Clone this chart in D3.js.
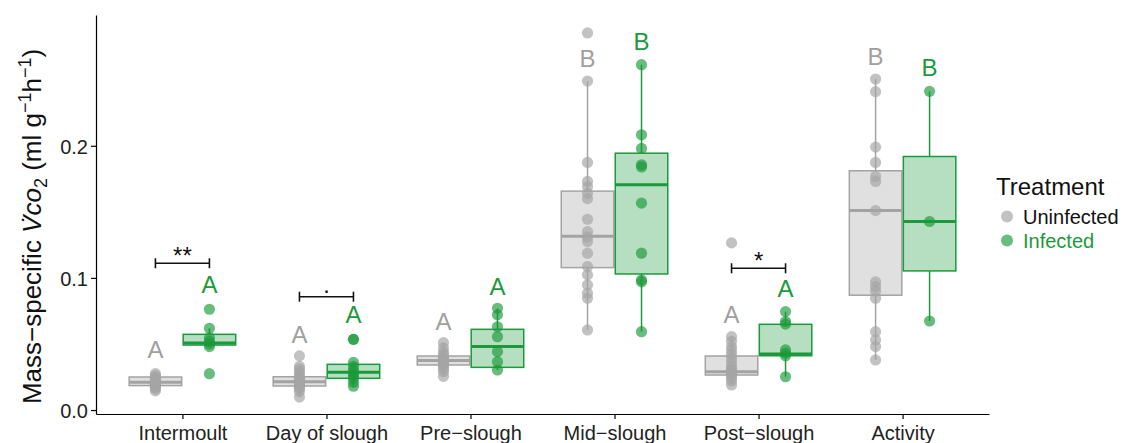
<!DOCTYPE html>
<html>
<head>
<meta charset="utf-8">
<script src="https://cdn.jsdelivr.net/npm/d3@7"></script>
<style>
  html, body { margin: 0; padding: 0; background: #fff; }
  svg { display: block; font-family: "Liberation Sans", Arial, sans-serif; }
</style>
</head>
<body>
<svg id="chart" width="1126" height="443"></svg>
<script>
// Moult stages on the x axis
const categories = ["Intermoult", "Day of slough", "Pre\u2212slough", "Mid\u2212slough", "Post\u2212slough", "Activity"];
const treatments = ["Uninfected", "Infected"];

// Individual mass-specific VCO2 measurements (ml g-1 h-1), one list per stage
const uninfectedPoints = [
  [0.0145, 0.016, 0.017, 0.018, 0.019, 0.0195, 0.020, 0.021, 0.021, 0.022, 0.023, 0.024, 0.025, 0.026, 0.0275],
  [0.041, 0.033, 0.031, 0.029, 0.027, 0.025, 0.024, 0.023, 0.022, 0.021, 0.020, 0.019, 0.018, 0.017, 0.016, 0.014, 0.0098],
  [0.051, 0.047, 0.044, 0.042, 0.040, 0.039, 0.038, 0.037, 0.036, 0.035, 0.034, 0.033, 0.031, 0.029, 0.0255],
  [0.2854, 0.249, 0.1874, 0.173, 0.169, 0.164, 0.160, 0.1444, 0.135, 0.131, 0.1275, 0.1187, 0.1086, 0.1023, 0.0947, 0.0884, 0.0846, 0.0606],
  [0.1265, 0.0555, 0.052, 0.048, 0.045, 0.042, 0.039, 0.036, 0.033, 0.031, 0.030, 0.029, 0.028, 0.027, 0.026, 0.024, 0.022, 0.019],
  [0.2505, 0.241, 0.199, 0.1874, 0.1768, 0.173, 0.151, 0.097, 0.0934, 0.090, 0.0846, 0.0593, 0.053, 0.048, 0.0379]
];
const infectedPoints = [
  [0.0763, 0.0619, 0.0545, 0.052, 0.050, 0.048, 0.0275],
  [0.0535, 0.0535, 0.036, 0.033, 0.030, 0.028, 0.026, 0.024, 0.021, 0.018],
  [0.077, 0.072, 0.063, 0.0555, 0.0442, 0.0366, 0.0303],
  [0.2614, 0.2083, 0.198, 0.1856, 0.184, 0.1566, 0.1187, 0.0985, 0.097, 0.0593],
  [0.0745, 0.067, 0.065, 0.0455, 0.043, 0.041, 0.0252],
  [0.2412, 0.1427, 0.0674]
];

// Box summaries per stage: [lower whisker, Q1, median, Q3, upper whisker]
const uninfectedBoxes = [
  [0.0145, 0.0185, 0.021, 0.025, 0.0275],
  [0.0098, 0.0182, 0.0215, 0.0252, 0.033],
  [0.0255, 0.0341, 0.0374, 0.0409, 0.051],
  [0.0606, 0.1078, 0.1315, 0.1657, 0.249],
  [0.019, 0.0265, 0.029, 0.0409, 0.0555],
  [0.0379, 0.0869, 0.151, 0.1811, 0.2505]
];
const infectedBoxes = [
  [0.048, 0.0492, 0.0508, 0.0573, 0.0619],
  [0.018, 0.024, 0.0286, 0.0346, 0.036],
  [0.0303, 0.0323, 0.048, 0.0611, 0.077],
  [0.0593, 0.103, 0.1705, 0.1944, 0.2614],
  [0.0252, 0.0411, 0.0424, 0.0649, 0.0745],
  [0.0674, 0.1053, 0.1427, 0.1919, 0.2412]
];

// Compact letter display across stages, with the height of each letter's baseline
const uninfectedLetters = ["A", "A", "A", "B", "A", "B"];
const uninfectedLetterY = [0.0394, 0.0505, 0.0606, 0.260, 0.0657, 0.2614];
const infectedLetters = ["A", "A", "A", "B", "A", "B"];
const infectedLetterY = [0.0884, 0.0657, 0.0871, 0.2727, 0.0859, 0.2525];

// Within-stage comparisons (uninfected vs infected)
const bracketStages = ["Intermoult", "Day of slough", "Post\u2212slough"];
const bracketY = [0.1111, 0.0858, 0.1073];
const bracketLabels = ["**", "\u00b7", "*"];

const yTicks = [0.0, 0.1, 0.2];

const colors = {
  Uninfected: { line: "#a3a3a3", fill: "rgba(169,169,169,0.36)", point: "rgba(165,165,165,0.68)", text: "#a0a0a0", legend: "#111" },
  Infected:   { line: "#1a9a3a", fill: "rgba(26,154,58,0.32)",  point: "rgba(26,154,58,0.66)",  text: "#1a9a3a", legend: "#1a9a3a" }
};

const svg = d3.select("#chart");
const panel = { left: 96, right: 989, top: 15, bottom: 414 };

const x = d3.scalePoint().domain(categories).range([panel.left, panel.right]).padding(0.6);
const dodge = d3.scaleBand().domain(treatments).range([-54, 54]).padding(0);
const y = d3.scaleLinear().domain([-0.003, 0.299]).range([panel.bottom, panel.top]);
const boxW = dodge.bandwidth();
const cx = (cat, t) => x(cat) + dodge(t) + boxW / 2;

// Boxplots
const groups = [];
categories.forEach((cat, i) => {
  groups.push({ cat, t: "Uninfected", box: uninfectedBoxes[i], pts: uninfectedPoints[i], letter: uninfectedLetters[i], ly: uninfectedLetterY[i] });
  groups.push({ cat, t: "Infected", box: infectedBoxes[i], pts: infectedPoints[i], letter: infectedLetters[i], ly: infectedLetterY[i] });
});

const gBox = svg.append("g");
groups.forEach(g => {
  const c = colors[g.t];
  const xc = cx(g.cat, g.t);
  const x0 = x(g.cat) + dodge(g.t);
  const [lo, q1, med, q3, hi] = g.box;
  gBox.append("line").attr("x1", xc).attr("x2", xc).attr("y1", y(q3)).attr("y2", y(hi))
    .attr("stroke", c.line).attr("stroke-width", 1.5);
  gBox.append("line").attr("x1", xc).attr("x2", xc).attr("y1", y(q1)).attr("y2", y(lo))
    .attr("stroke", c.line).attr("stroke-width", 1.5);
  gBox.append("rect").attr("x", x0 + 0.75).attr("width", boxW - 1.5)
    .attr("y", y(q3)).attr("height", y(q1) - y(q3))
    .attr("fill", "#fff").attr("stroke", "none");
  gBox.append("rect").attr("x", x0 + 0.75).attr("width", boxW - 1.5)
    .attr("y", y(q3)).attr("height", y(q1) - y(q3))
    .attr("fill", c.fill).attr("stroke", c.line).attr("stroke-width", 1.5);
  gBox.append("line").attr("x1", x0 + 0.75).attr("x2", x0 + boxW - 0.75)
    .attr("y1", y(med)).attr("y2", y(med))
    .attr("stroke", c.line).attr("stroke-width", 3);
});

// Individual measurements
const gPts = svg.append("g");
groups.forEach(g => {
  gPts.selectAll(null).data(g.pts).enter().append("circle")
    .attr("cx", cx(g.cat, g.t)).attr("cy", d => y(d)).attr("r", 5.6)
    .attr("fill", colors[g.t].point);
});

// Group letters
const gTxt = svg.append("g");
groups.forEach(g => {
  gTxt.append("text").attr("x", cx(g.cat, g.t)).attr("y", y(g.ly))
    .attr("text-anchor", "middle").attr("font-size", 24)
    .attr("fill", colors[g.t].text).text(g.letter);
});

// Significance brackets
const gBr = svg.append("g").attr("stroke", "#111").attr("stroke-width", 1.6);
bracketStages.forEach((cat, i) => {
  const xa = cx(cat, "Uninfected"), xb = cx(cat, "Infected"), yy = y(bracketY[i]);
  gBr.append("line").attr("x1", xa).attr("x2", xb).attr("y1", yy).attr("y2", yy);
  gBr.append("line").attr("x1", xa).attr("x2", xa).attr("y1", yy - 5).attr("y2", yy + 5);
  gBr.append("line").attr("x1", xb).attr("x2", xb).attr("y1", yy - 5).attr("y2", yy + 5);
  svg.append("text").attr("x", (xa + xb) / 2).attr("y", yy + 1)
    .attr("text-anchor", "middle").attr("font-size", 24).attr("fill", "#111")
    .text(bracketLabels[i]);
});

// Axes
const yAxis = svg.append("g").attr("transform", `translate(${panel.left},0)`)
  .call(d3.axisLeft(y).tickValues(yTicks).tickFormat(d3.format(".1f")).tickSize(5).tickSizeOuter(0).tickPadding(3));
const xAxis = svg.append("g").attr("transform", `translate(0,${panel.bottom})`)
  .call(d3.axisBottom(x).tickSize(5).tickSizeOuter(0).tickPadding(6));
[yAxis, xAxis].forEach(a => {
  a.select(".domain").attr("stroke", "#000").attr("stroke-width", 1.2);
  a.selectAll(".tick line").attr("stroke", "#000").attr("stroke-width", 1.2);
  a.selectAll(".tick text").attr("fill", "#222").attr("font-size", 20)
    .attr("font-family", "Liberation Sans, Arial, sans-serif");
});
yAxis.selectAll(".tick text").attr("dy", "0.36em");
xAxis.selectAll(".tick text").attr("dy", "0.74em");

// Y axis title with dotted V, subscript and superscripts
const title = svg.append("text")
  .attr("transform", `translate(41,${(panel.top + panel.bottom) / 2 + 12}) rotate(-90)`)
  .attr("text-anchor", "middle").attr("font-size", 26).attr("fill", "#111");
title.append("tspan").text("Mass\u2212specific  ");
title.append("tspan").attr("font-style", "italic").text("V");
title.append("tspan").attr("font-style", "italic").attr("dx", -10).text("\u02d9");
title.append("tspan").attr("font-style", "italic").attr("dx", 1.3).text("co");
title.append("tspan").attr("font-size", 18).attr("dy", 6).text("2");
title.append("tspan").attr("dy", -6).text(" (ml g");
title.append("tspan").attr("font-size", 18).attr("dy", -10).text("\u22121");
title.append("tspan").attr("dy", 10).text("h");
title.append("tspan").attr("font-size", 18).attr("dy", -10).text("\u22121");
title.append("tspan").attr("dy", 10).text(")");

// Legend
const legend = svg.append("g").attr("transform", "translate(996,0)");
legend.append("text").attr("x", 0).attr("y", 195).attr("font-size", 24).attr("fill", "#111").text("Treatment");
treatments.forEach((t, i) => {
  const ly = 216.5 + i * 24;
  legend.append("circle").attr("cx", 11).attr("cy", ly).attr("r", 6).attr("fill", colors[t].point);
  legend.append("text").attr("x", 27).attr("y", ly + 7.5).attr("font-size", 20)
    .attr("fill", colors[t].legend).text(t);
});
</script>
</body>
</html>
